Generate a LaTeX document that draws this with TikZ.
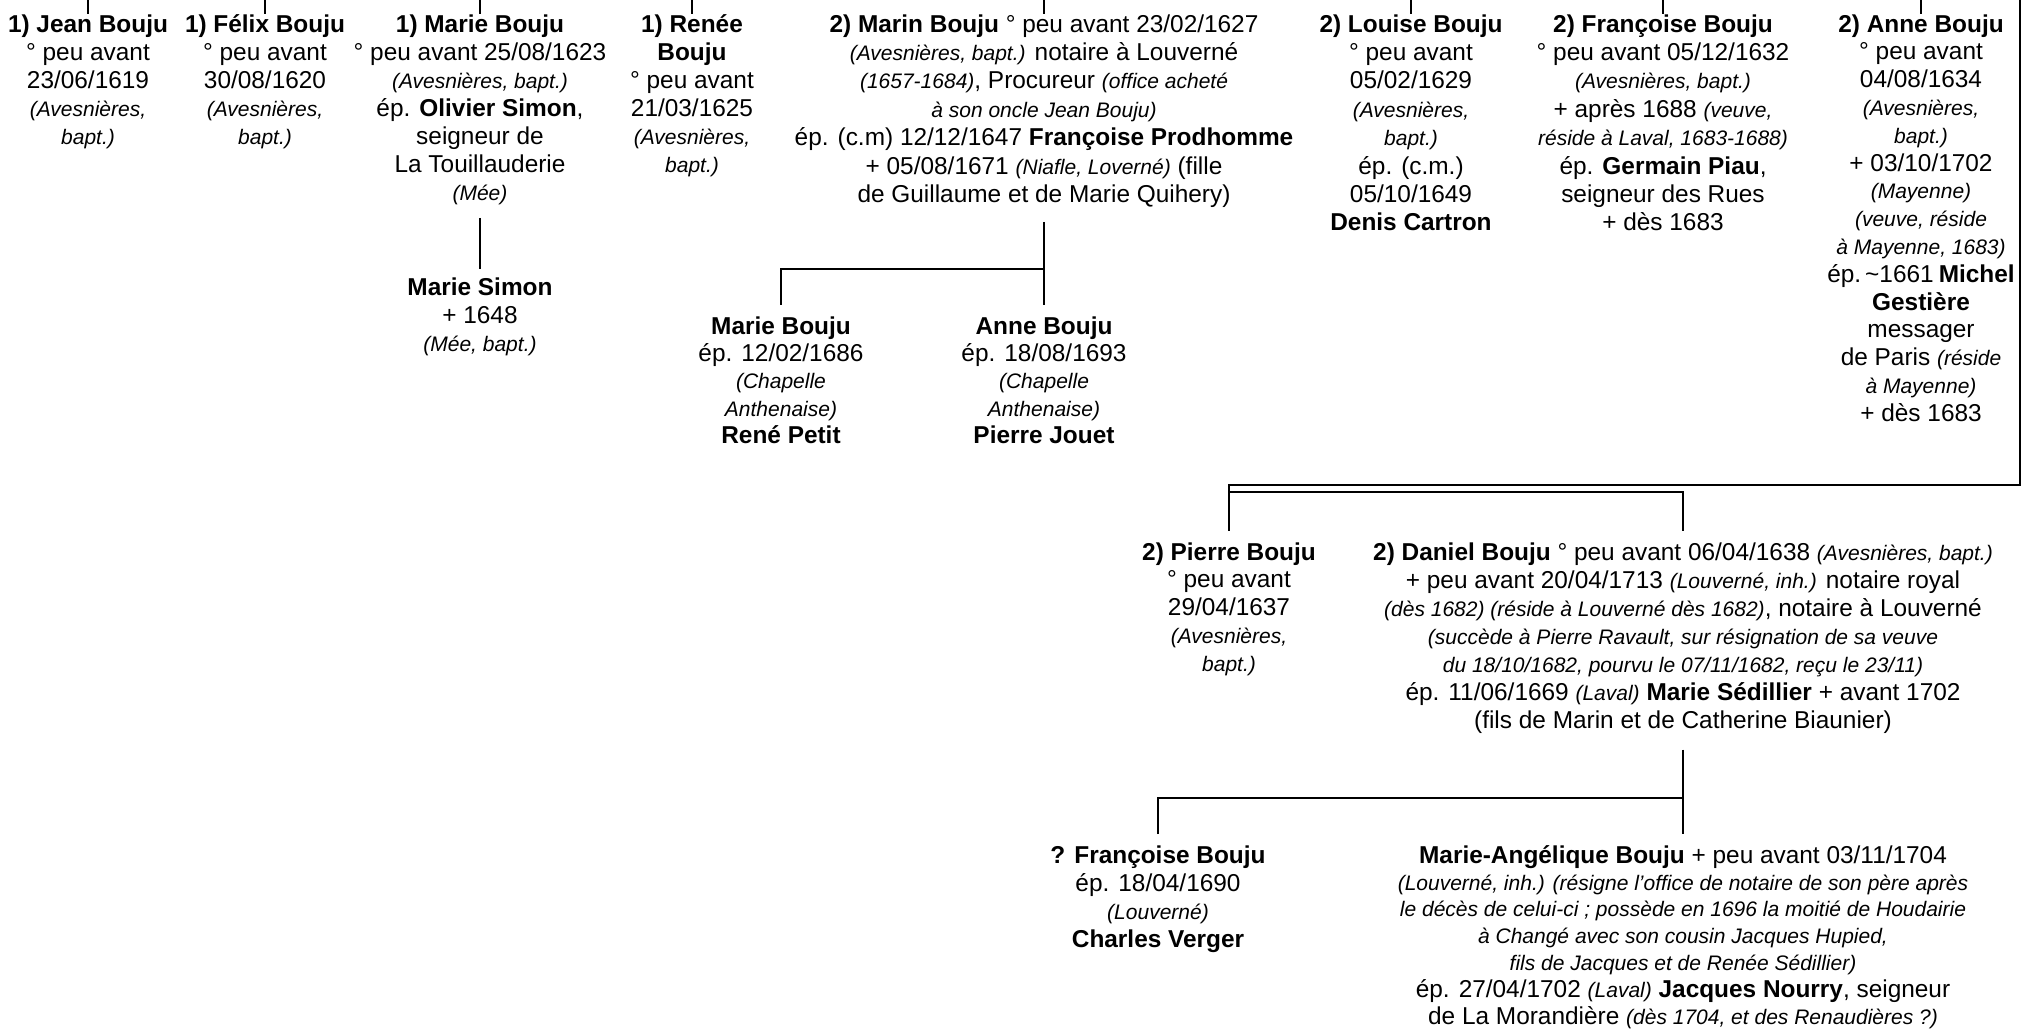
\documentclass[tikz,border=0pt]{standalone}
\usepackage{fontspec}
\setmainfont{Liberation Sans}
\newcommand\ii[1]{{\fontsize{10.5}{12}\selectfont\itshape #1}}
\begin{document}
\begin{tikzpicture}[x=0.5pt,y=-0.5pt,
  person/.style={align=center, inner sep=0pt, anchor=north,
    font=\fontsize{12.2}{14}\selectfont, execute at begin node=\rule{0pt}{11pt}},
  link/.style={line width=1.2pt, black}]
\useasboundingbox (0,0) rectangle (2023,1031);

% top row
\node[person] (jean) at (88,14) {\textbf{1) Jean Bouju}\\° peu avant\\23/06/1619\\\ii{(Avesnières,}\\\ii{bapt.)}};
\node[person] (felix) at (265,14) {\textbf{1) Félix Bouju}\\° peu avant\\30/08/1620\\\ii{(Avesnières,}\\\ii{bapt.)}};
\node[person] (marie) at (480,14) {\textbf{1) Marie Bouju}\\° peu avant 25/08/1623\\\ii{(Avesnières, bapt.)}\\ép. \textbf{Olivier Simon},\\seigneur de\\La Touillauderie\\\ii{(Mée)}};
\node[person] (renee) at (692,14) {\textbf{1) Renée}\\\textbf{Bouju}\\° peu avant\\21/03/1625\\\ii{(Avesnières,}\\\ii{bapt.)}};
\node[person, font=\fontsize{12.2}{14.2}\selectfont] (marin) at (1044,14) {\textbf{2) Marin Bouju} ° peu avant 23/02/1627\\\ii{(Avesnières, bapt.)} notaire à Louverné\\\ii{(1657-1684)}, Procureur \ii{(office acheté}\\\ii{à son oncle Jean Bouju)}\\ép. (c.m) 12/12/1647 \textbf{Françoise Prodhomme}\\+ 05/08/1671 \ii{(Niafle, Loverné)} (fille\\de Guillaume et de Marie Quihery)};
\node[person, font=\fontsize{12.2}{14.2}\selectfont] (louise) at (1411,14) {\textbf{2) Louise Bouju}\\° peu avant\\05/02/1629\\\ii{(Avesnières,}\\\ii{bapt.)}\\ép. (c.m.)\\05/10/1649\\\textbf{Denis Cartron}};
\node[person, font=\fontsize{12.2}{14.2}\selectfont] (francoise) at (1663,14) {\textbf{2) Françoise Bouju}\\° peu avant 05/12/1632\\\ii{(Avesnières, bapt.)}\\+ après 1688 \ii{(veuve,}\\\ii{réside à Laval, 1683-1688)}\\ép. \textbf{Germain Piau},\\seigneur des Rues\\+ dès 1683};
\node[person, font=\fontsize{12.2}{13.9}\selectfont] (anne) at (1921,14) {\textbf{2) Anne Bouju}\\° peu avant\\04/08/1634\\\ii{(Avesnières,}\\\ii{bapt.)}\\+ 03/10/1702\\\ii{(Mayenne)}\\\ii{(veuve, réside}\\\ii{à Mayenne, 1683)}\\ép.\hspace{2pt}\textasciitilde1661\hspace{2.5pt}\textbf{Michel}\\\textbf{Gestière}\\messager\\de Paris \ii{(réside}\\\ii{à Mayenne)}\\+ dès 1683};

% second level
\node[person] (msimon) at (480,277) {\textbf{Marie Simon}\\+ 1648\\\ii{(Mée, bapt.)}};
\node[person, font=\fontsize{12.2}{13.7}\selectfont] (marieb) at (781,316) {\textbf{Marie Bouju}\\ép. 12/02/1686\\\ii{(Chapelle}\\\ii{Anthenaise)}\\\textbf{René Petit}};
\node[person, font=\fontsize{12.2}{13.7}\selectfont] (anneb) at (1044,316) {\textbf{Anne Bouju}\\ép. 18/08/1693\\\ii{(Chapelle}\\\ii{Anthenaise)}\\\textbf{Pierre Jouet}};

% Pierre and Daniel
\node[person, font=\fontsize{12.2}{13.9}\selectfont] (pierre) at (1229,542) {\textbf{2) Pierre Bouju}\\° peu avant\\29/04/1637\\\ii{(Avesnières,}\\\ii{bapt.)}};
\node[person] (daniel) at (1683,542) {\textbf{2) Daniel Bouju} ° peu avant 06/04/1638 \ii{(Avesnières, bapt.)}\\+ peu avant 20/04/1713 \ii{(Louverné, inh.)} notaire royal\\\ii{(dès 1682) (réside à Louverné dès 1682)}, notaire à Louverné\\\ii{(succède à Pierre Ravault, sur résignation de sa veuve}\\\ii{du 18/10/1682, pourvu le 07/11/1682, reçu le 23/11)}\\ép. 11/06/1669 \ii{(Laval)} \textbf{Marie Sédillier} + avant 1702\\(fils de Marin et de Catherine Biaunier)};

% Daniel's children
\node[person] (fch) at (1158,845) {\textbf{? Françoise Bouju}\\ép. 18/04/1690\\\ii{(Louverné)}\\\textbf{Charles Verger}};
\node[person, font=\fontsize{12.2}{13.4}\selectfont] (mang) at (1683,845) {\textbf{Marie-Angélique Bouju} + peu avant 03/11/1704\\\ii{(Louverné, inh.) (résigne l’office de notaire de son père après}\\\ii{le décès de celui-ci ; possède en 1696 la moitié de Houdairie}\\\ii{à Changé avec son cousin Jacques Hupied,}\\\ii{fils de Jacques et de Renée Sédillier)}\\ép. 27/04/1702 \ii{(Laval)} \textbf{Jacques Nourry}, seigneur\\de La Morandière \ii{(dès 1704, et des Renaudières ?)}};

% connectors
\coordinate (top) at (0,0);
\foreach \n in {jean,felix,marie,renee,marin,louise,francoise,anne}
  \draw[link] (\n.north) -- (\n.north |- top);

\draw[link] ([yshift=-6.5pt]marie.south) -- ([yshift=4pt]msimon.north);

\coordinate (marinbar) at (1044,269);
\draw[link] ([yshift=-7pt]marin.south) -- ([yshift=5.5pt]anneb.north);
\draw[link] ([yshift=5.5pt]marieb.north) |- (marinbar);

\coordinate (rtop) at (2020,0);
\coordinate (rbend) at (2020,485);
\draw[link] (rtop) -- (rbend) -| ([yshift=5.5pt]pierre.north);
\coordinate (dbar) at (1229,492);
\draw[link] (dbar) -| ([yshift=5.5pt]daniel.north);

\coordinate (danbar) at (1683,798);
\draw[link] ([yshift=-8pt]daniel.south) -- ([yshift=5.5pt]mang.north);
\draw[link] ([yshift=5.5pt]fch.north) |- (danbar);
\end{tikzpicture}
\end{document}
